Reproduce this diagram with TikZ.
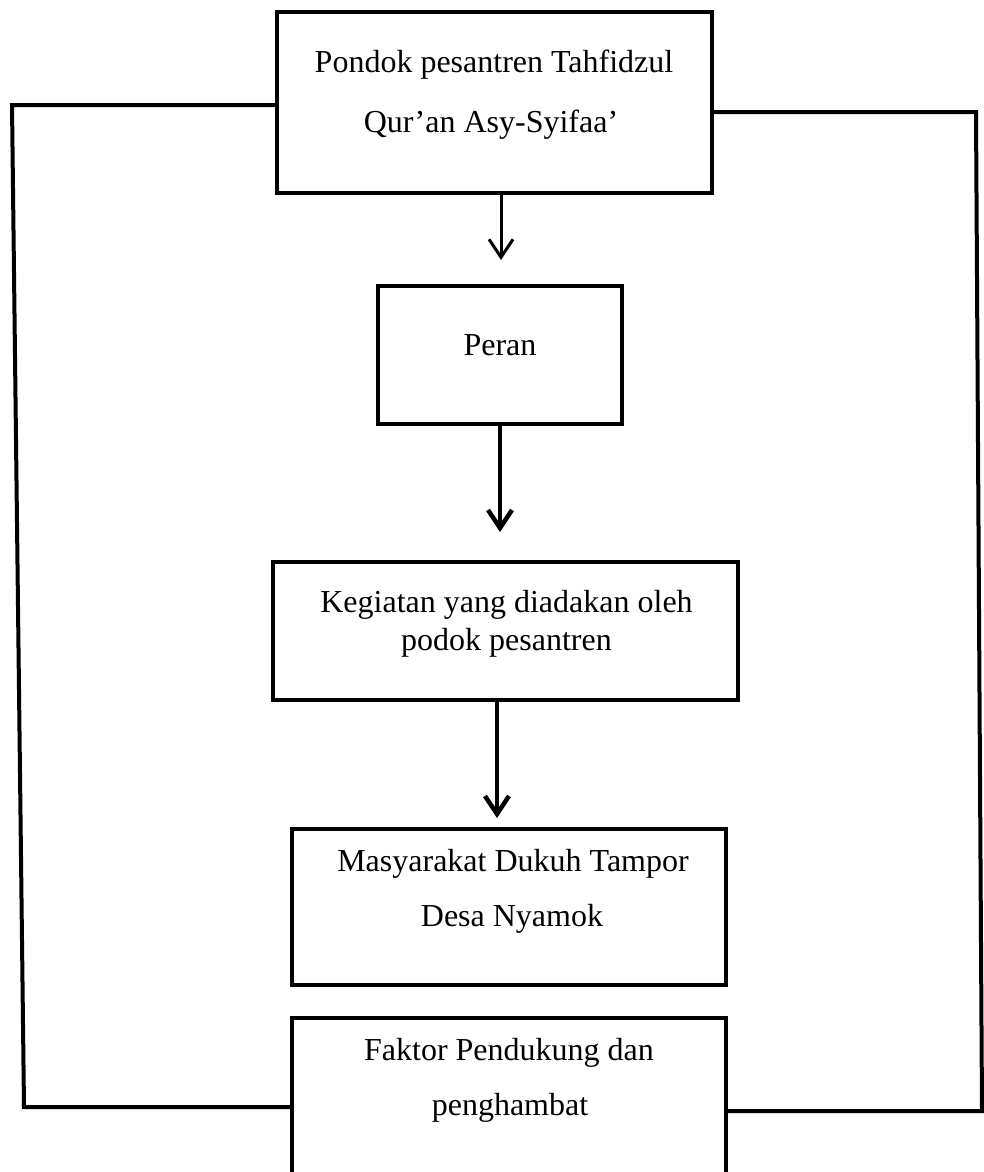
\documentclass[tikz,border=0pt]{standalone}
\usepackage{fontspec}
\setmainfont{Liberation Serif}
\usetikzlibrary{arrows.meta}
\begin{document}
\begin{tikzpicture}[x=1pt,y=-1pt,
  boxnode/.style={draw=black,line width=3.5pt,rectangle,inner sep=0pt},
  txt/.style={font=\fontsize{32}{38}\selectfont,anchor=base,inner sep=0pt},
  loopline/.style={line width=4pt,line join=miter},
  arrline/.style={line width=#1,-{Straight Barb[length=18pt,width=24pt,line width=#1]}},
]
\useasboundingbox (0,0) rectangle (984,1172);
\clip (0,0) rectangle (984,1172);
\fill[white] (0,0) rectangle (984,1172);

% boxes
\node[boxnode,minimum width=435pt,minimum height=181pt] (top) at (494.5,102.5) {};
\node[boxnode,minimum width=244pt,minimum height=138pt] (peran) at (500,355) {};
\node[boxnode,minimum width=465pt,minimum height=138pt] (keg) at (505.5,631) {};
\node[boxnode,minimum width=434pt,minimum height=156pt] (mas) at (509,907) {};
\node[boxnode,minimum width=434pt,minimum height=177pt] (fak) at (509,1106.5) {};

% texts
\node[txt] (t1a) at (494,73) {Pondok pesantren Tahfidzul};
\node[txt] (t1b) at (491,132) {Qur’an Asy-Syifaa’};
\node[txt] (t2) at (500,355) {Peran};
\node[txt] (t3a) at (506.5,612) {Kegiatan yang diadakan oleh};
\node[txt] (t3b) at (506.5,650) {podok pesantren};
\node[txt] (t4a) at (513,871) {Masyarakat Dukuh Tampor};
\node[txt] (t4b) at (512,926) {Desa Nyamok};
\node[txt] (t5a) at (509,1060) {Faktor Pendukung dan};
\node[txt] (t5b) at (510,1115) {penghambat};

% arrows
\coordinate (a1e) at (501,260);
\coordinate (a2e) at (500,532);
\coordinate (a3e) at (497,818);
\draw[arrline=3pt] (top.south -| a1e) -- (a1e);
\draw[arrline=4.5pt] (peran.south -| a2e) -- (a2e);
\draw[arrline=4.5pt] (keg.south -| a3e) -- (a3e);

% side loops
\coordinate (L1) at (12,105);
\coordinate (L2) at (24,1107);
\coordinate (R1) at (976,112);
\coordinate (R2) at (982,1111);
\draw[loopline] (top.west |- L1) -- (L1) -- (L2) -- (L2 -| fak.west);
\draw[loopline] (top.east |- R1) -- (R1) -- (R2) -- (R2 -| fak.east);
\end{tikzpicture}
\end{document}
